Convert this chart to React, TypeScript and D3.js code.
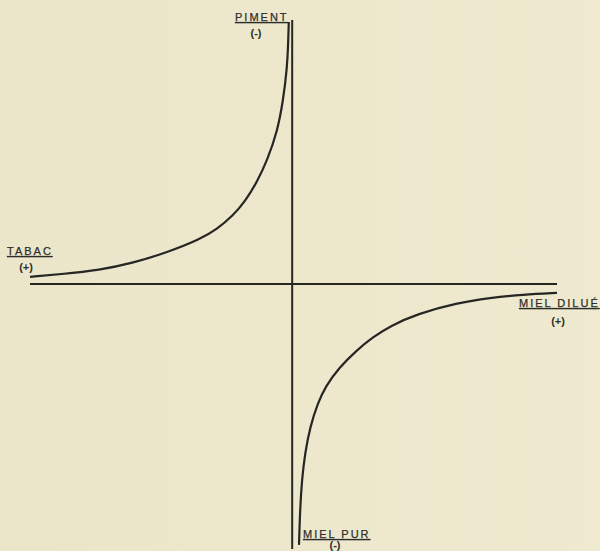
import React from "react";
import * as d3 from "d3";

const W = 600;
const H = 551;

// Upper-left branch (TABAC → PIMENT) in chart units
const upperX = [-10, -8.86, -7.33, -6.07, -4.77, -3.51, -2.87, -2.26, -1.8, -1.34, -0.96, -0.56, -0.35, -0.2, -0.15, -0.13];
const upperY = [0.27, 0.37, 0.53, 0.8, 1.2, 1.7, 2.08, 2.6, 3.14, 3.88, 4.68, 5.82, 6.96, 8.14, 9.2, 9.96];

// Lower-right branch (MIEL PUR → MIEL DILUÉ)
const lowerX = [0.26, 0.3, 0.37, 0.49, 0.68, 0.98, 1.27, 1.78, 2.47, 3.08, 3.73, 4.76, 6.29, 7.54, 8.8, 10.1];
const lowerY = [-9.92, -8.59, -7.45, -6.43, -5.44, -4.52, -3.9, -3.19, -2.51, -2.02, -1.6, -1.14, -0.72, -0.53, -0.4, -0.34];

const xDomain = [-10, 10.1];
const yDomain = [-10, 10];

export default function App() {
  const x = d3.scaleLinear().domain(xDomain).range([30, 557]);
  const y = d3.scaleLinear().domain(yDomain).range([547, 21]);

  const line = d3
    .line<[number, number]>()
    .x((d) => x(d[0]))
    .y((d) => y(d[1]))
    .curve(d3.curveBasis);

  const upper: [number, number][] = upperX.map((v, i) => [v, upperY[i]]);
  const lower: [number, number][] = lowerX.map((v, i) => [v, lowerY[i]]);

  const ink = "#262623";
  const font = "'Liberation Sans', Arial, sans-serif";
  const lab = {
    fontFamily: font,
    fontSize: 11,
    letterSpacing: 2,
    fill: "#2e2e2a",
    stroke: "#2e2e2a",
    strokeWidth: 0.25,
    textDecoration: "underline",
  } as React.CSSProperties;
  const sign = {
    fontFamily: font,
    fontSize: 11,
    fill: "#2e2e2a",
    fontWeight: 700,
  } as React.CSSProperties;

  return (
    <div style={{ position: "fixed", left: 0, top: 0 }}>
      <svg width={W} height={H} style={{ display: "block" }}>
        <defs>
          <linearGradient id="bg" x1="0" y1="0" x2="1" y2="0">
            <stop offset="0" stopColor="#ebe5ca" />
            <stop offset="1" stopColor="#efeacf" />
          </linearGradient>
        </defs>
        <rect width={W} height={H} fill="url(#bg)" />
        {/* axes */}
        <line x1={x(xDomain[0])} x2={x(xDomain[1])} y1={y(0)} y2={y(0)} stroke={ink} strokeWidth={2} />
        <line x1={x(0)} x2={x(0)} y1={y(yDomain[1]) - 1} y2={y(yDomain[0]) + 2} stroke={ink} strokeWidth={2} />
        {/* curves */}
        <path d={line(upper) || ""} fill="none" stroke={ink} strokeWidth={2.2} />
        <path d={line(lower) || ""} fill="none" stroke={ink} strokeWidth={2.2} />
        {/* labels */}
        <text x={235} y={21} style={lab}>PIMENT</text>
        <text x={256} y={37} textAnchor="middle" style={sign}>(-)</text>
        <text x={7} y={255} style={lab}>TABAC</text>
        <text x={26} y={271} textAnchor="middle" style={sign}>(+)</text>
        <text x={519} y={307} style={lab}>MIEL DILUÉ</text>
        <text x={558} y={325} textAnchor="middle" style={sign}>(+)</text>
        <text x={303} y={538} style={lab}>MIEL PUR</text>
        <text x={335} y={549} textAnchor="middle" style={sign}>(-)</text>
      </svg>
    </div>
  );
}
